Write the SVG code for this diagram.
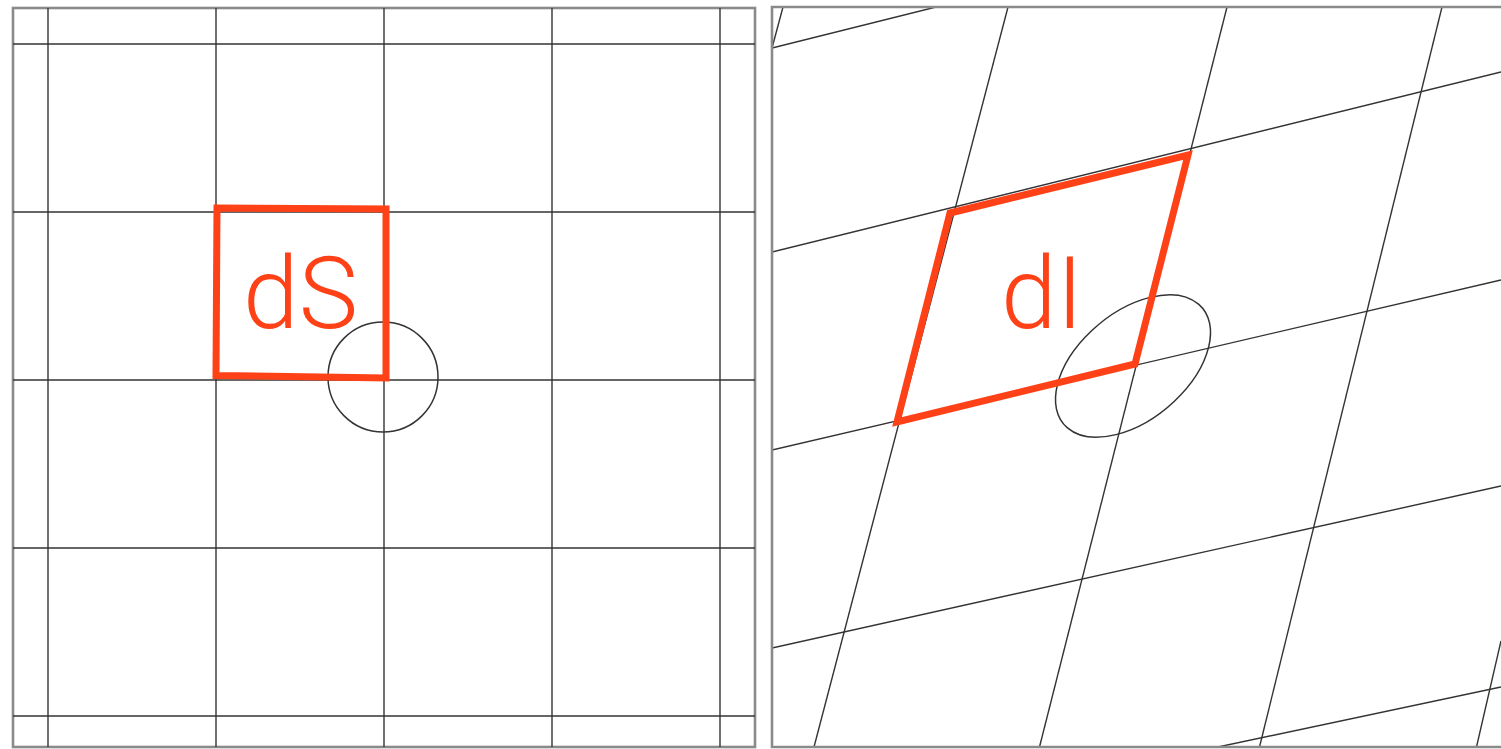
<svg xmlns="http://www.w3.org/2000/svg" width="1501" height="749" viewBox="0 0 1501 749">
  <style>
    .border { fill: none; stroke: #8a8a8a; stroke-width: 2.6; }
    .grid { fill: none; stroke: #333333; stroke-width: 1.4; }
    .curve { fill: none; stroke: #333333; stroke-width: 1.5; }
    .hl { fill: none; stroke: #FE4116; stroke-width: 7; stroke-linejoin: miter; }
    .lbl { fill: #FE4116; font-family: Roboto, "Liberation Sans", sans-serif; font-weight: 300; font-size: 100px; text-anchor: middle; }
  </style>
  <defs>
    <clipPath id="clipR">
      <rect x="772" y="7" width="740" height="740"/>
    </clipPath>
  </defs>
  <rect width="1501" height="749" fill="#ffffff"/>

  <g id="panel-left">
    <rect class="border" x="13" y="8" width="742" height="739"/>
    <g id="grid-left" class="grid">
      <line x1="48" y1="8" x2="48" y2="747"/>
      <line x1="216" y1="8" x2="216" y2="747"/>
      <line x1="384" y1="8" x2="384" y2="747"/>
      <line x1="552" y1="8" x2="552" y2="747"/>
      <line x1="720" y1="8" x2="720" y2="747"/>
      <line x1="13" y1="44" x2="755" y2="44"/>
      <line x1="13" y1="212" x2="755" y2="212"/>
      <line x1="13" y1="380" x2="755" y2="380"/>
      <line x1="13" y1="548" x2="755" y2="548"/>
      <line x1="13" y1="716" x2="755" y2="716"/>
    </g>
    <circle id="circle-left" class="curve" cx="383" cy="377" r="55"/>
    <g id="node-dS">
      <polygon class="hl" points="217,208 386,209 386,378 216,375.5"/>
      <text class="lbl" x="300.5" y="328">dS</text>
    </g>
  </g>

  <g id="panel-right">
    <g id="grid-right" class="grid" clip-path="url(#clipR)">
      <line x1="783" y1="7" x2="772" y2="48"/>
      <line x1="1008" y1="7" x2="814" y2="747"/>
      <line x1="1227" y1="7" x2="1039.5" y2="747"/>
      <line x1="1442" y1="7" x2="1259.5" y2="747"/>
      <line x1="1501" y1="641" x2="1476.5" y2="747"/>
      <line x1="772" y1="48" x2="936" y2="7"/>
      <line x1="772" y1="252" x2="1501" y2="72"/>
      <line x1="772" y1="450" x2="1501" y2="280"/>
      <line x1="772" y1="648" x2="1501" y2="486"/>
      <line x1="1218" y1="747" x2="1501" y2="687"/>
    </g>
    <path class="border" d="M1501,7 H772 V747 H1501"/>
    <circle id="ellipse-right" class="curve" cx="0" cy="0" r="55" vector-effect="non-scaling-stroke" transform="matrix(1.375 -0.343 -0.31 1.248 1133 366)"/>
    <g id="node-dI">
      <polygon class="hl" points="950,213 1188,155 1135,364 897,422"/>
      <text class="lbl" x="1042" y="328">dI</text>
    </g>
  </g>
</svg>
